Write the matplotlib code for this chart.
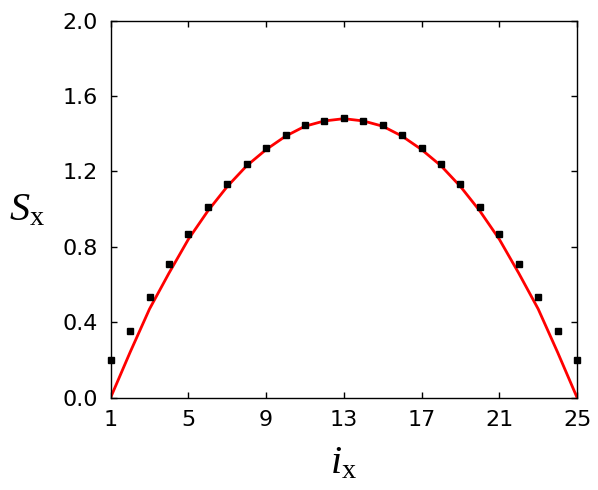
#!/usr/bin/env python3
"""Structure factor S_x along i_x: simulation points and fitted curve."""

import matplotlib

matplotlib.use("Agg")
import matplotlib.pyplot as plt

# data
i_x = list(range(1, 26))
s_points = [0.200, 0.354, 0.533, 0.709, 0.868, 1.012, 1.134, 1.240, 1.325, 1.394, 1.444, 1.470, 1.481,
            1.470, 1.444, 1.394, 1.325, 1.240, 1.134, 1.012, 0.868, 0.709, 0.533, 0.354, 0.200]
s_curve = [0.0, 0.24, 0.47, 0.66, 0.84, 0.99, 1.12, 1.23, 1.316, 1.387, 1.44, 1.468, 1.48,
           1.468, 1.44, 1.387, 1.316, 1.23, 1.12, 0.99, 0.84, 0.66, 0.47, 0.24, 0.0]
x_ticks = [1, 5, 9, 13, 17, 21, 25]
y_ticks = [0.0, 0.4, 0.8, 1.2, 1.6, 2.0]

plt.rcParams["mathtext.fontset"] = "custom"
plt.rcParams["mathtext.rm"] = "Liberation Serif"
plt.rcParams["mathtext.it"] = "Liberation Serif:italic"

fig = plt.figure(figsize=(5.98, 4.90), dpi=100)
ax = fig.add_axes([0.185, 0.1886, 0.780, 0.7692])

ax.plot(i_x, s_curve, color="red", linewidth=2.0, zorder=2)
ax.plot(i_x, s_points, linestyle="None", marker="s", markersize=5, color="black", clip_on=False, zorder=3)

ax.set_xlim(1, 25)
ax.set_ylim(0.0, 2.0)
ax.set_xticks(x_ticks)
ax.set_yticks(y_ticks)
ax.set_yticklabels([f"{v:.1f}" for v in y_ticks])
ax.tick_params(direction="in", top=True, right=True, length=4, width=1, labelsize=16, pad=9)
for spine in ax.spines.values():
    spine.set_linewidth(1.0)

ax.set_xlabel(r"$i_{\mathrm{x}}$", fontsize=29, labelpad=9)
ax.set_ylabel(r"$S_{\mathrm{x}}$", fontsize=29, rotation=0, labelpad=26, va="center")

fig.savefig("out.png", dpi=100)
